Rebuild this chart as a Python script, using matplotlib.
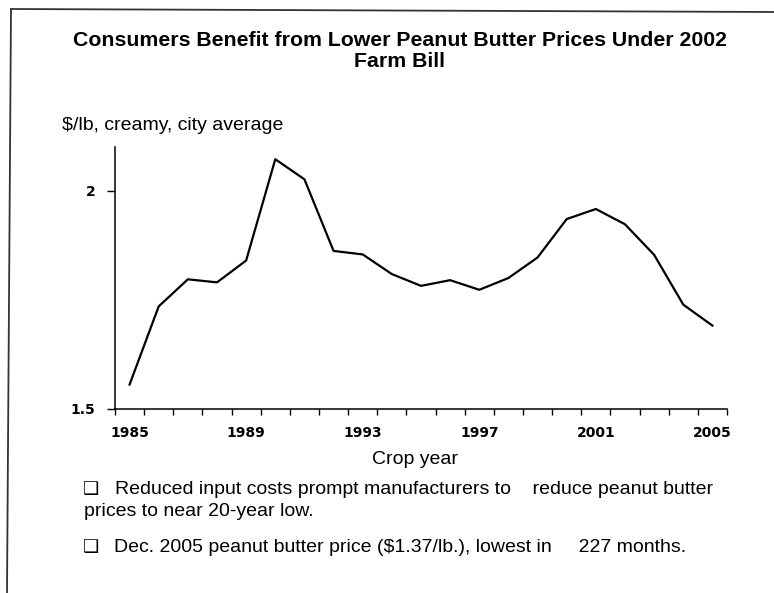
import matplotlib
matplotlib.use("Agg")
import matplotlib.pyplot as plt
from matplotlib.lines import Line2D
import numpy as np

# crop years and average retail price, $/lb creamy peanut butter
years = list(range(1985, 2006))
prices = [1.556, 1.735, 1.797, 1.790, 1.840, 2.072, 2.026, 1.862, 1.854,
          1.809, 1.782, 1.795, 1.773, 1.800, 1.847, 1.935, 1.958, 1.923,
          1.853, 1.739, 1.691]
year_labels = ["1985", "1989", "1993", "1997", "2001", "2005"]
y_ticks = [1.5, 2.0]
y_tick_labels = ["1.5", "2"]

title = "Consumers Benefit from Lower Peanut Butter Prices Under 2002\nFarm Bill"
unit_label = "$/lb, creamy, city average"
x_label = "Crop year"
note1 = "Reduced input costs prompt manufacturers to    reduce peanut butter"
note1b = "prices to near 20-year low."
note2 = "Dec. 2005 peanut butter price ($1.37/lb.), lowest in     227 months."

W, H = 774, 593
fig = plt.figure(figsize=(W / 100, H / 100), dpi=100)
fig.patch.set_facecolor("white")


def fx(px):
    return px / W


def fy(py):
    return 1 - py / H


text_font = "Liberation Sans"
tick_font = "DejaVu Sans"

# frame lines of the scanned slide (left and top only)
fig.add_artist(Line2D([fx(11), fx(7)], [fy(9), 0], color="#333333", lw=1.3))
fig.add_artist(Line2D([fx(11), 1], [fy(9), fy(12)], color="#333333", lw=1.3))

ax = fig.add_axes([fx(115), fy(409), fx(727) - fx(115), fy(147) - fy(409)])
x = np.arange(len(years))
ax.plot(x, prices, color="black", lw=1.6)

ax.set_xlim(-0.5, len(years) - 0.5)
ax.set_ylim(1.5, 2.1)
for s in ["top", "right"]:
    ax.spines[s].set_visible(False)
for s in ["left", "bottom"]:
    ax.spines[s].set_linewidth(1.1)

label_pos = [years.index(int(y)) for y in year_labels]
ax.set_xticks(label_pos)
ax.set_xticklabels(year_labels)
ax.set_xticks(np.arange(-0.5, len(years)), minor=True)
ax.tick_params(axis="x", which="major", length=0, pad=12)
ax.tick_params(axis="x", which="minor", length=4, width=1.0, direction="out")
ax.set_yticks(y_ticks)
ax.set_yticklabels(y_tick_labels)
ax.tick_params(axis="y", length=6, width=1.0, pad=8)
for lab in ax.get_xticklabels() + ax.get_yticklabels():
    lab.set_fontfamily(tick_font)
    lab.set_fontweight("bold")
    lab.set_fontsize(10)

fig.text(fx(400), fy(51), title, ha="center", va="center", fontsize=15.3,
         fontweight="bold", family=text_font, linespacing=1.15)
fig.text(fx(62), fy(125), unit_label, ha="left", va="center", fontsize=14,
         family=text_font)
fig.text(fx(415), fy(460), x_label, ha="center", va="center", fontsize=14,
         family=text_font)

box = "\u2751"
fig.text(fx(83), fy(489), box, ha="left", va="center", fontsize=13,
         family=["DejaVu Sans"])
fig.text(fx(115), fy(489), note1, ha="left", va="center", fontsize=14,
         family=text_font)
fig.text(fx(84), fy(511), note1b, ha="left", va="center", fontsize=14,
         family=text_font)
fig.text(fx(83), fy(547), box, ha="left", va="center", fontsize=13,
         family=["DejaVu Sans"])
fig.text(fx(114), fy(547), note2, ha="left", va="center", fontsize=14,
         family=text_font)

fig.savefig("out.png", dpi=100)
